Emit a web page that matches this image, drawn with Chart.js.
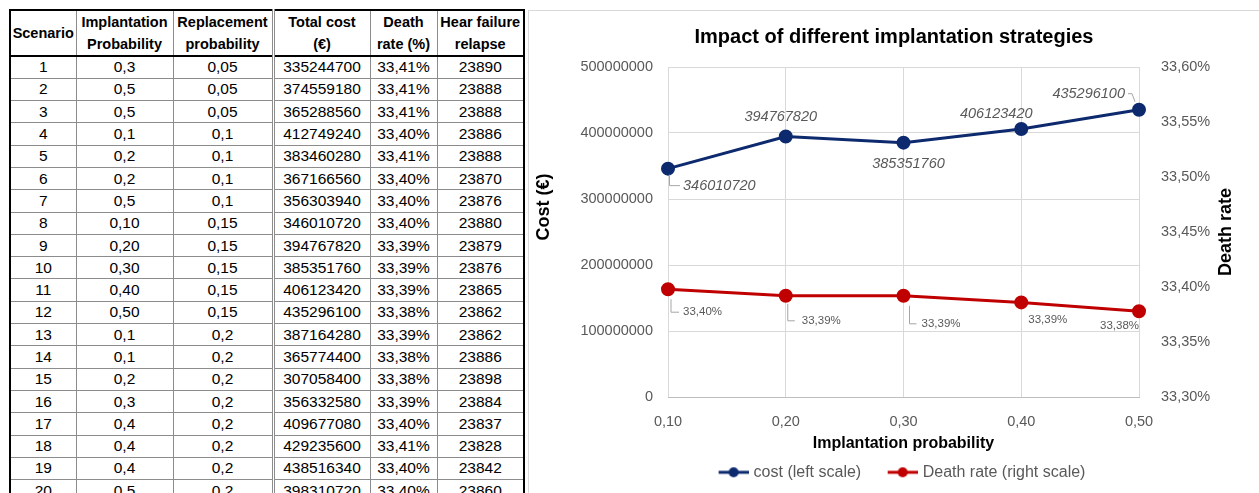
<!doctype html>
<html lang="en">
  <head>
    <meta charset="UTF-8" />
    <title>Impact of different implantation strategies</title>
    <script src="https://cdn.jsdelivr.net/npm/chart.js"></script>
    <style>
      body {
        margin: 0;
        width: 1259px;
        height: 493px;
        overflow: hidden;
        position: relative;
        background: #ffffff;
        font-family: "Liberation Sans", Arial, sans-serif;
      }

      table {
        position: absolute;
        left: 9px;
        top: 9px;
        width: 514px;
        border-collapse: collapse;
        table-layout: fixed;
        border: 2px solid #000;
        color: #000;
        font-size: 15.5px;
      }

      th,
      td {
        border: 1px solid #8c8c8c;
        padding: 0;
        text-align: center;
        white-space: nowrap;
        overflow: hidden;
      }

      th {
        font-size: 14.5px;
        line-height: 22px;
        height: 43px;
        border-bottom: 2px solid #000;
      }

      tbody tr {
        height: 22.3px;
      }

      .split {
        border-left: 3px double #8c8c8c;
      }

      .chart-box {
        position: absolute;
        left: 528px;
        top: 10px;
        width: 730px;
        height: 482px;
        border-left: 1px solid #d9d9d9;
        border-top: 1px solid #d9d9d9;
      }
    </style>
  </head>
  <body>
    <table>
      <colgroup>
        <col style="width: 66px" />
        <col style="width: 97px" />
        <col style="width: 100px" />
        <col style="width: 97px" />
        <col style="width: 67px" />
        <col style="width: 87px" />
      </colgroup>
      <thead>
        <tr>
          <th>Scenario</th>
          <th>Implantation<br />Probability</th>
          <th>Replacement<br />probability</th>
          <th class="split">Total cost<br />(€)</th>
          <th>Death<br />rate (%)</th>
          <th>Hear failure<br />relapse</th>
        </tr>
      </thead>
      <tbody id="tableBody"></tbody>
    </table>

    <div class="chart-box">
      <canvas id="strategyChart" width="730" height="482"></canvas>
    </div>

    <script>
      // table values, as printed
      const scenarios = [1, 2, 3, 4, 5, 6, 7, 8, 9, 10, 11, 12, 13, 14, 15, 16, 17, 18, 19, 20];
      const implantProb = ["0,3", "0,5", "0,5", "0,1", "0,2", "0,2", "0,5", "0,10", "0,20", "0,30",
        "0,40", "0,50", "0,1", "0,1", "0,2", "0,3", "0,4", "0,4", "0,4", "0,5"];
      const replaceProb = ["0,05", "0,05", "0,05", "0,1", "0,1", "0,1", "0,1", "0,15", "0,15", "0,15",
        "0,15", "0,15", "0,2", "0,2", "0,2", "0,2", "0,2", "0,2", "0,2", "0,2"];
      const totalCost = [335244700, 374559180, 365288560, 412749240, 383460280, 367166560, 356303940,
        346010720, 394767820, 385351760, 406123420, 435296100, 387164280, 365774400, 307058400,
        356332580, 409677080, 429235600, 438516340, 398310720];
      const deathRatePct = ["33,41%", "33,41%", "33,41%", "33,40%", "33,41%", "33,40%", "33,40%",
        "33,40%", "33,39%", "33,39%", "33,39%", "33,38%", "33,39%", "33,38%", "33,38%", "33,39%",
        "33,40%", "33,41%", "33,40%", "33,40%"];
      const relapse = [23890, 23888, 23888, 23886, 23888, 23870, 23876, 23880, 23879, 23876,
        23865, 23862, 23862, 23886, 23898, 23884, 23837, 23828, 23842, 23860];

      // chart values (scenarios 8-12)
      const xLabels = ["0,10", "0,20", "0,30", "0,40", "0,50"];
      const costValues = [346010720, 394767820, 385351760, 406123420, 435296100];
      const deathValues = [33.398, 33.392, 33.392, 33.386, 33.378];

      const tbody = document.getElementById("tableBody");
      scenarios.forEach((s, i) => {
        const tr = document.createElement("tr");
        tr.innerHTML =
          "<td>" + s + "</td><td>" + implantProb[i] + "</td><td>" + replaceProb[i] +
          '</td><td class="split">' + totalCost[i] + "</td><td>" + deathRatePct[i] +
          "</td><td>" + relapse[i] + "</td>";
        tbody.appendChild(tr);
      });

      const NAVY = "#0d2a6e";
      const RED = "#c00000";
      const GREY_TEXT = "#595959";
      const FONT = '"Liberation Sans", Arial, sans-serif';

      Chart.defaults.font.family = FONT;
      Chart.defaults.color = GREY_TEXT;

      const fmtPct = (v) => v.toFixed(2).replace(".", ",") + "%";

      // label placement relative to each point
      const costLabelPos = [
        { dx: 15, dy: 17, align: "left", leader: [[1.5, 6], [1.5, 17], [12, 17]] },
        { dx: -5, dy: -19, align: "center" },
        { dx: 5, dy: 21, align: "center" },
        { dx: -25, dy: -15, align: "center" },
        { dx: -14, dy: -16, align: "right", leader: [[-11, -16], [-7, -16], [-4, -8]] }
      ];
      const deathLabelPos = [
        { dx: 15, dy: 23, align: "left", leader: [[3, 10], [3, 23], [11, 23]] },
        { dx: 16, dy: 25, align: "left", leader: [[2, 8], [2, 25], [9, 25]] },
        { dx: 18, dy: 28, align: "left", leader: [[6, 10], [6, 28], [13, 28]] },
        { dx: 7, dy: 17, align: "left" },
        { dx: 0, dy: 15, align: "right" }
      ];

      const pointLabels = {
        id: "pointLabels",
        afterDatasetsDraw(chart) {
          const ctx = chart.ctx;
          const sets = [
            { meta: chart.getDatasetMeta(0), pos: costLabelPos, text: (v) => String(v), font: "italic 14.5px " + FONT },
            { meta: chart.getDatasetMeta(1), pos: deathLabelPos, text: fmtPct, font: "11.5px " + FONT }
          ];
          ctx.save();
          sets.forEach((set, di) => {
            const values = chart.data.datasets[di].data;
            set.meta.data.forEach((pt, i) => {
              const p = set.pos[i];
              if (p.leader) {
                ctx.strokeStyle = "#a6a6a6";
                ctx.lineWidth = 1;
                ctx.beginPath();
                p.leader.forEach(([lx, ly], k) => {
                  if (k === 0) ctx.moveTo(pt.x + lx, pt.y + ly);
                  else ctx.lineTo(pt.x + lx, pt.y + ly);
                });
                ctx.stroke();
              }
              ctx.font = set.font;
              ctx.fillStyle = GREY_TEXT;
              ctx.textAlign = p.align;
              ctx.textBaseline = "middle";
              ctx.fillText(set.text(values[i]), pt.x + p.dx, pt.y + p.dy);
            });
          });
          ctx.restore();
        }
      };

      // rotated y titles, both read bottom to top
      const sideTitles = {
        id: "sideTitles",
        afterDraw(chart) {
          const { ctx, chartArea } = chart;
          const midY = (chartArea.top + chartArea.bottom) / 2;
          ctx.save();
          ctx.font = "bold 18px " + FONT;
          ctx.fillStyle = "#000";
          ctx.textAlign = "center";
          ctx.textBaseline = "middle";
          ctx.translate(chartArea.left - 124, midY - 25);
          ctx.rotate(-Math.PI / 2);
          ctx.fillText("Cost (€)", 0, 0);
          ctx.restore();
          ctx.save();
          ctx.font = "bold 18px " + FONT;
          ctx.fillStyle = "#000";
          ctx.textAlign = "center";
          ctx.textBaseline = "middle";
          ctx.translate(chartArea.right + 87, midY);
          ctx.rotate(-Math.PI / 2);
          ctx.fillText("Death rate", 0, 0);
          ctx.restore();
        }
      };

      // legend swatch: short line with a dot, transparent margin on the left
      function legendMarker(color) {
        const c = document.createElement("canvas");
        c.width = 49;
        c.height = 12;
        const g = c.getContext("2d");
        g.strokeStyle = color;
        g.lineWidth = 3;
        g.beginPath();
        g.moveTo(19, 6);
        g.lineTo(49, 6);
        g.stroke();
        g.fillStyle = color;
        g.beginPath();
        g.arc(34, 6, 5, 0, Math.PI * 2);
        g.fill();
        return c;
      }
      const markers = [legendMarker(NAVY), legendMarker(RED)];

      const ctx = document.getElementById("strategyChart").getContext("2d");
      const strategyChart = new Chart(ctx, {
        type: "line",
        data: {
          labels: xLabels,
          datasets: [
            {
              label: "cost (left scale)",
              data: costValues,
              yAxisID: "y",
              borderColor: NAVY,
              backgroundColor: NAVY,
              borderWidth: 3,
              pointRadius: 5.5,
              pointBackgroundColor: NAVY,
              pointBorderColor: NAVY,
              tension: 0
            },
            {
              label: "Death rate (right scale)",
              data: deathValues,
              yAxisID: "y1",
              borderColor: RED,
              backgroundColor: RED,
              borderWidth: 3,
              pointRadius: 5.5,
              pointBackgroundColor: RED,
              pointBorderColor: RED,
              tension: 0
            }
          ]
        },
        options: {
          responsive: false,
          animation: false,
          devicePixelRatio: 1,
          layout: { padding: { left: 0, right: 0, top: 0, bottom: 2.7 } },
          plugins: {
            title: {
              display: true,
              text: "Impact of different implantation strategies",
              color: "#000",
              font: { size: 20, weight: "bold" },
              padding: { top: 14, bottom: 18 }
            },
            legend: {
              position: "bottom",
              labels: {
                usePointStyle: true,
                pointStyleWidth: 43,
                padding: 10.5,
                color: GREY_TEXT,
                font: { size: 16 },
                generateLabels(chart) {
                  const items = Chart.defaults.plugins.legend.labels.generateLabels(chart);
                  items.forEach((it, i) => (it.pointStyle = markers[i]));
                  return items;
                }
              }
            },
            tooltip: { enabled: false }
          },
          scales: {
            x: {
              grid: { color: "#d9d9d9", drawTicks: false },
              border: { color: "#bfbfbf" },
              ticks: { padding: 16, font: { size: 14.5 }, color: GREY_TEXT },
              title: {
                display: true,
                text: "Implantation probability",
                color: "#000",
                font: { size: 16, weight: "bold" },
                padding: { top: 0, bottom: 0.9 }
              },
              afterFit(scale) {
                scale.height = 56.8;
              }
            },
            y: {
              position: "left",
              min: 0,
              max: 500000000,
              grid: { color: "#d9d9d9", drawTicks: false },
              border: { display: false },
              ticks: {
                stepSize: 100000000,
                padding: 15,
                font: { size: 14.5 },
                color: GREY_TEXT,
                callback: (v) => String(v)
              },
              afterFit(scale) {
                scale.width = 139;
              }
            },
            y1: {
              position: "right",
              min: 33.3,
              max: 33.6,
              grid: { display: false },
              border: { display: false },
              ticks: {
                stepSize: 0.05,
                padding: 14,
                font: { size: 14.5 },
                color: GREY_TEXT,
                callback: (v) => fmtPct(v)
              },
              afterFit(scale) {
                scale.width = 120;
              }
            }
          }
        },
        plugins: [pointLabels, sideTitles]
      });
    </script>
  </body>
</html>
